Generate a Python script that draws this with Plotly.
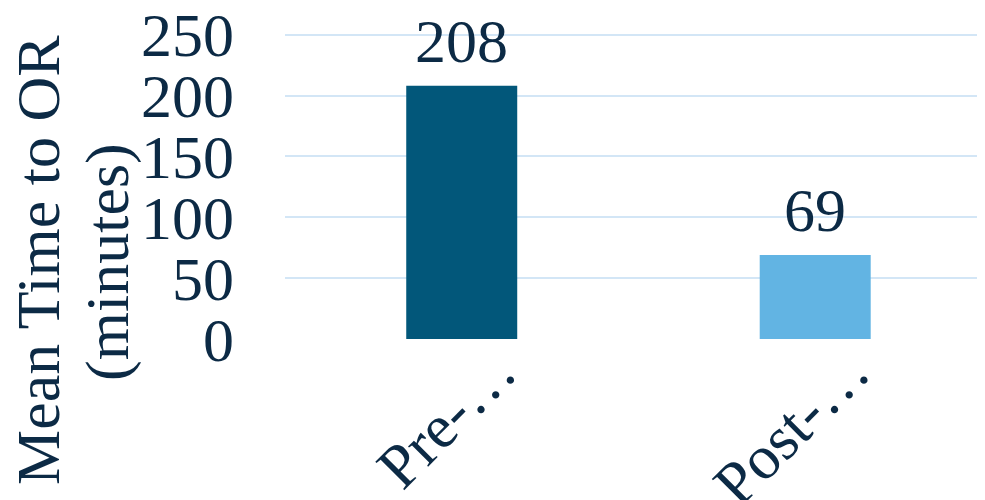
import plotly.graph_objects as go

categories = ["Pre-…", "Post-…"]
values = [208, 69]
bar_colors = ["#02577a", "#62b4e3"]
y_ticks = [0, 50, 100, 150, 200, 250]

TEXT = "#0c2a45"
FONT = "Liberation Serif, Times New Roman, serif"
FS = 62

# page is drawn with an 8px body margin; layout numbers below are figure coords
L, T, B = 277, 23.35, 169
PW = 985 - L
PH = 500 - T - B

fig = go.Figure()
fig.add_trace(go.Bar(
    x=categories, y=values,
    marker=dict(color=bar_colors, line=dict(width=0)),
    width=0.314,
    hoverinfo="x+y",
))

annotations = [
    dict(text=str(v), x=c, y=v, xref="x", yref="y", showarrow=False,
         xanchor="center", yanchor="bottom", yshift=9,
         font=dict(family=FONT, size=FS, color=TEXT))
    for c, v in zip(categories, values)
]
annotations += [
    dict(text="Mean Time to OR", xref="paper", yref="paper",
         x=(38 - 8 - L) / PW, y=(T + PH - (260 - 8)) / PH, textangle=-90,
         showarrow=False, xanchor="center", yanchor="middle",
         font=dict(family=FONT, size=FS, color=TEXT)),
    dict(text="(minutes)", xref="paper", yref="paper",
         x=(108 - 8 - L) / PW, y=(T + PH - (262 - 8)) / PH, textangle=-90,
         showarrow=False, xanchor="center", yanchor="middle",
         font=dict(family=FONT, size=FS, color=TEXT)),
]

fig.update_layout(
    width=985, height=500,
    margin=dict(l=L, r=0, t=T, b=B, autoexpand=False),
    paper_bgcolor="white", plot_bgcolor="white",
    showlegend=False,
    font=dict(family=FONT, size=FS, color=TEXT),
    xaxis=dict(
        range=[-0.5, 1.503],
        tickangle=-45,
        tickfont=dict(family=FONT, size=FS, color=TEXT),
        showgrid=False, zeroline=False, showline=False,
        ticks="", automargin=False,
        ticklabelstandoff=-18, ticklabelshift=36,
        ticklabeloverflow="allow",
    ),
    yaxis=dict(
        range=[0, 253],
        tickvals=y_ticks,
        tickfont=dict(family=FONT, size=FS, color=TEXT),
        showgrid=True, gridcolor="#d3e6f6", gridwidth=2,
        zeroline=False, showline=False, ticks="",
        ticklabelstandoff=50, automargin=False,
        ticklabeloverflow="allow",
    ),
    annotations=annotations,
)

fig.write_html("out.html")
